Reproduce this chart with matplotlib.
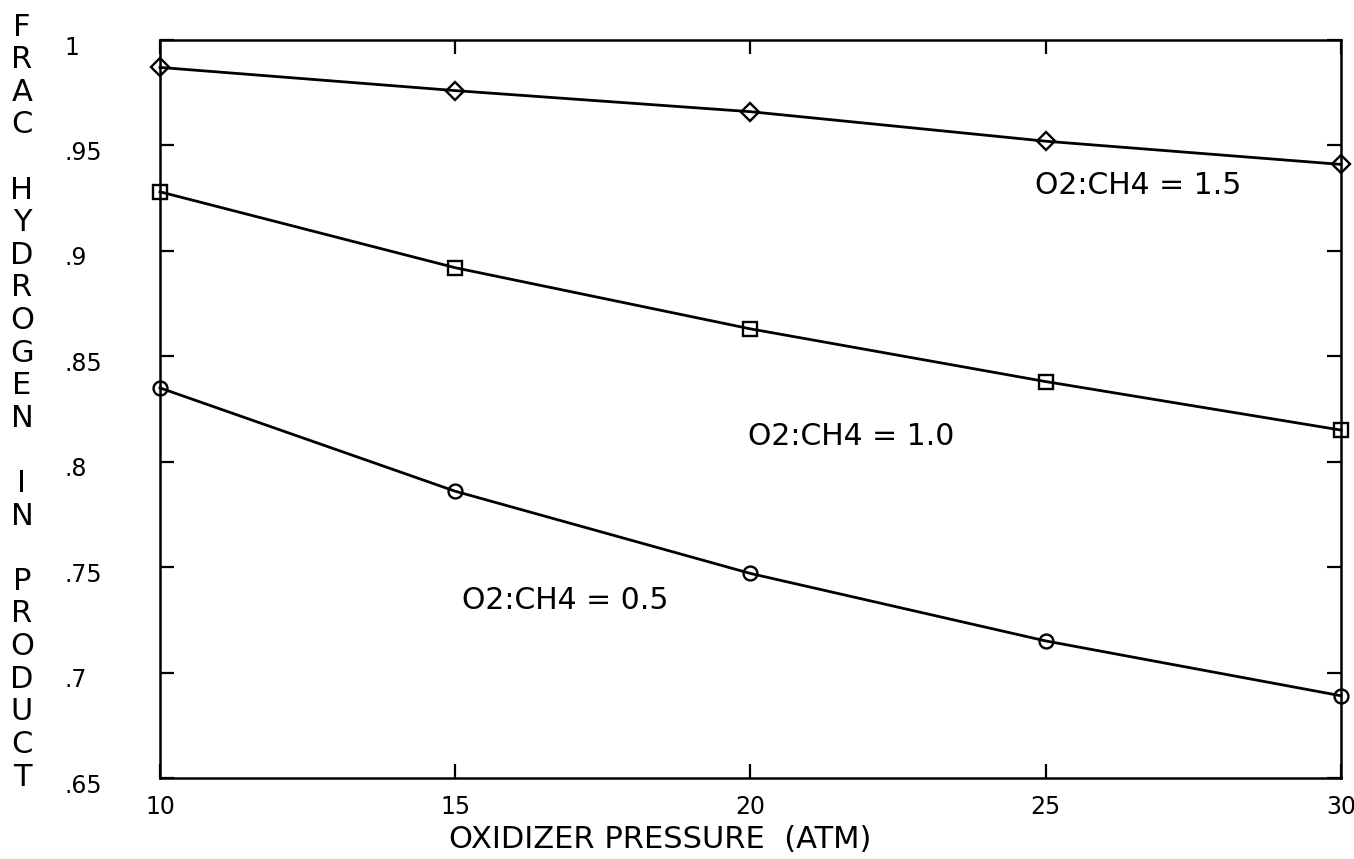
import matplotlib
matplotlib.use('Agg')
import matplotlib.pyplot as plt
import matplotlib.transforms as mtransforms
import numpy as np

# Data
pressure = [10, 15, 20, 25, 30]
frac_15 = [0.987, 0.976, 0.966, 0.952, 0.941]
frac_10 = [0.928, 0.892, 0.863, 0.838, 0.815]
frac_05 = [0.835, 0.786, 0.747, 0.715, 0.689]

series_labels = ['O2:CH4 = 1.5', 'O2:CH4 = 1.0', 'O2:CH4 = 0.5']
label_pos = [(24.82, 0.931), (19.96, 0.812), (15.11, 0.7344)]

x_ticks = [10, 15, 20, 25, 30]
y_ticks = [0.65, 0.7, 0.75, 0.8, 0.85, 0.9, 0.95, 1.0]
y_ticklabels = ['.65', '.7', '.75', '.8', '.85', '.9', '.95', '1']

ylabel_text = 'FRAC HYDROGEN IN PRODUCT'
xlabel_text = 'OXIDIZER PRESSURE  (ATM)'

plt.rcParams['font.family'] = ['DejaVu Sans']

fig = plt.figure(figsize=(13.54, 8.59), dpi=100)
ax = fig.add_axes([160/1354, 1 - 778/859, 1181/1354, 738/859])

line_kw = dict(color='black', lw=2.0, markerfacecolor='none',
               markeredgecolor='black', markeredgewidth=1.7, clip_on=False)
ax.plot(pressure, frac_15, marker='D', ms=9.5, **line_kw)
ax.plot(pressure, frac_10, marker='s', ms=9.5, **line_kw)
ax.plot(pressure, frac_05, marker='o', ms=10, **line_kw)

for txt, (tx, ty) in zip(series_labels, label_pos):
    ax.text(tx, ty, txt, fontsize=21.5, ha='left', va='center')

ax.set_xlim(10, 30)
ax.set_ylim(0.65, 1.0)
ax.set_xticks(x_ticks)
ax.set_xticklabels([str(v) for v in x_ticks])
ax.set_yticks(y_ticks)
ax.set_yticklabels(y_ticklabels, ha='left')

for s in ax.spines.values():
    s.set_linewidth(1.8)

ax.tick_params(direction='in', length=10, width=1.6,
               top=True, right=True, labelsize=17)
ax.tick_params(axis='y', pad=69)
ax.tick_params(axis='x', pad=12)

# y tick labels sit a little below their ticks in the original
shift = mtransforms.ScaledTranslation(0, -5/100, fig.dpi_scale_trans)
for lab in ax.get_yticklabels():
    lab.set_transform(lab.get_transform() + shift)

ax.set_xlabel(xlabel_text, fontsize=22)
ax.xaxis.set_label_coords(500/1181, -62/738)
ax.xaxis.label.set_va('center')

# stacked vertical y-axis label, one letter per row
n = len(ylabel_text)
top_px, bot_px = 27, 777
for i, ch in enumerate(ylabel_text):
    ypx = top_px + (bot_px - top_px) * i / (n - 1)
    fig.text(22/1354, 1 - ypx/859, ch, fontsize=22, ha='center', va='center')

fig.savefig('out.png', dpi=100)
